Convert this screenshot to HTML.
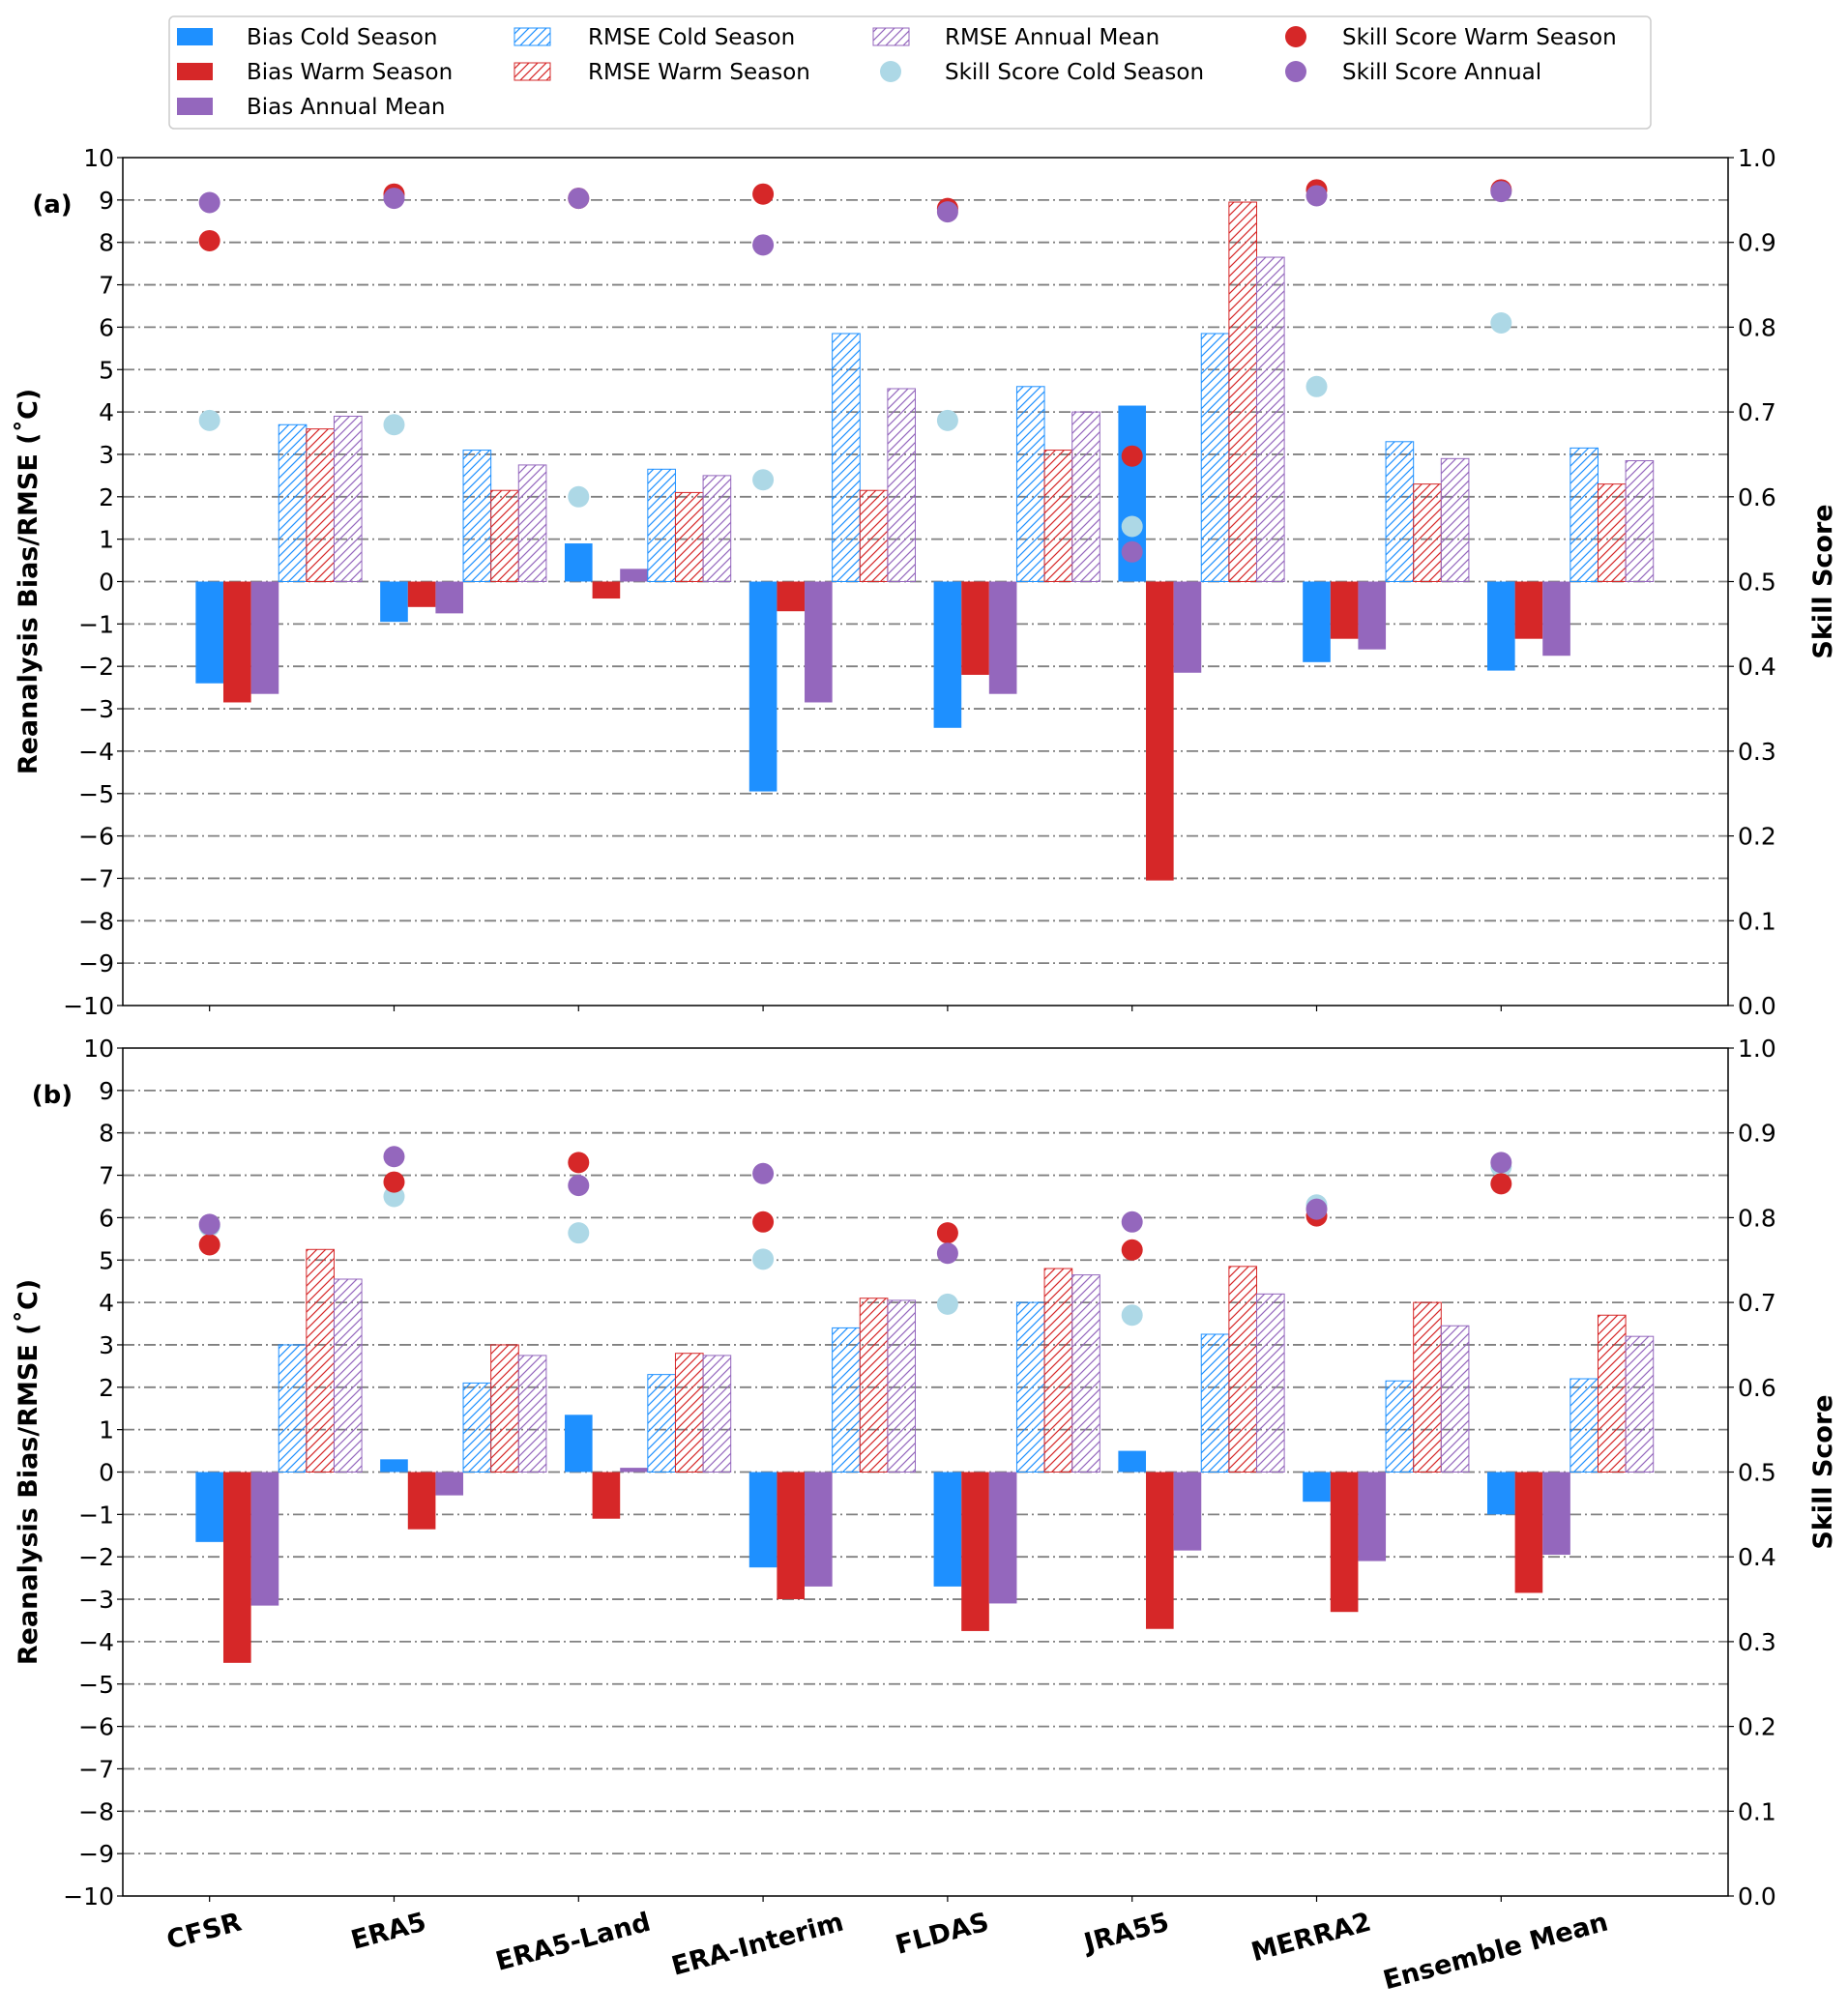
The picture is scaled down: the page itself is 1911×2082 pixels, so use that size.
<!DOCTYPE html>
<html><head><meta charset="utf-8"><style>
body{margin:0;background:#fff}
svg{display:block;font-family:"DejaVu Sans","Liberation Sans",sans-serif}
</style></head><body>
<svg id="chart" width="1911" height="2082" viewBox="0 0 1911 2082" xmlns="http://www.w3.org/2000/svg">
<defs>
<pattern id="hC" patternUnits="userSpaceOnUse" width="9" height="9"><path d="M-2,2 L2,-2 M0,9 L9,0 M7,11 L11,7" stroke="#1e90ff" stroke-width="1.2"/></pattern>
<pattern id="hW" patternUnits="userSpaceOnUse" width="9" height="9"><path d="M-2,2 L2,-2 M0,9 L9,0 M7,11 L11,7" stroke="#d62728" stroke-width="1.2"/></pattern>
<pattern id="hA" patternUnits="userSpaceOnUse" width="9" height="9"><path d="M-2,2 L2,-2 M0,9 L9,0 M7,11 L11,7" stroke="#9467bd" stroke-width="1.2"/></pattern>
</defs>
<g id="legend"></g>
</svg>
<script>
const categories=["CFSR","ERA5","ERA5-Land","ERA-Interim","FLDAS","JRA55","MERRA2","Ensemble Mean"];
const biasColdA=[-2.4,-0.95,0.9,-4.95,-3.45,4.15,-1.9,-2.1];
const biasWarmA=[-2.85,-0.6,-0.4,-0.7,-2.2,-7.05,-1.35,-1.35];
const biasAnnA=[-2.65,-0.75,0.3,-2.85,-2.65,-2.15,-1.6,-1.75];
const rmseColdA=[3.7,3.1,2.65,5.85,4.6,5.85,3.3,3.15];
const rmseWarmA=[3.6,2.15,2.1,2.15,3.1,8.95,2.3,2.3];
const rmseAnnA=[3.9,2.75,2.5,4.55,4.0,7.65,2.9,2.85];
const skillColdA=[0.69,0.685,0.60,0.62,0.69,0.565,0.73,0.805];
const skillWarmA=[0.902,0.957,0.952,0.957,0.94,0.648,0.962,0.962];
const skillAnnA=[0.947,0.952,0.952,0.897,0.936,0.535,0.955,0.96];
const biasColdB=[-1.65,0.3,1.35,-2.25,-2.7,0.5,-0.7,-1.0];
const biasWarmB=[-4.5,-1.35,-1.1,-3.0,-3.75,-3.7,-3.3,-2.85];
const biasAnnB=[-3.15,-0.55,0.1,-2.7,-3.1,-1.85,-2.1,-1.95];
const rmseColdB=[3.0,2.1,2.3,3.4,4.0,3.25,2.15,2.2];
const rmseWarmB=[5.25,3.0,2.8,4.1,4.8,4.85,4.0,3.7];
const rmseAnnB=[4.55,2.75,2.75,4.05,4.65,4.2,3.45,3.2];
const skillColdB=[0.79,0.825,0.782,0.751,0.698,0.685,0.815,0.86];
const skillWarmB=[0.768,0.842,0.865,0.795,0.782,0.762,0.802,0.84];
const skillAnnB=[0.792,0.872,0.838,0.852,0.758,0.795,0.81,0.865];
const leftTicks=[-10,-9,-8,-7,-6,-5,-4,-3,-2,-1,0,1,2,3,4,5,6,7,8,9,10];
const rightTicks=["0.0","0.1","0.2","0.3","0.4","0.5","0.6","0.7","0.8","0.9","1.0"];

const NS="http://www.w3.org/2000/svg";
const svg=document.getElementById('chart');
function mk(tag,attrs,parent,text){const e=document.createElementNS(NS,tag);for(const k in attrs)e.setAttribute(k,attrs[k]);if(text!==undefined)e.textContent=text;(parent||svg).appendChild(e);return e;}
const L=127,R=1787,XMIN=-0.47,XMAX=8.23;
function xs(v){return L+(v-XMIN)/(XMAX-XMIN)*(R-L);}
const BW=0.15;
const BLUE="#1e90ff",RED="#d62728",PUR="#9467bd",LB="#add8e6";

function panel(top,bot,label,d,showX){
  const g=mk('g',{});
  
  
  const ys=v=>top+(10-v)/20*(bot-top);
  const ss=s=>top+(1-s)*(bot-top);
  leftTicks.forEach(t=>{
    if(t!==10&&t!==-10){const gl=mk('line',{x1:L,x2:R,y1:ys(t),y2:ys(t),stroke:'#808080','stroke-width':1.8,'stroke-dasharray':'12,4,2,4'},g);
    }
    mk('line',{x1:L-6,x2:L,y1:ys(t),y2:ys(t),stroke:'#000','stroke-width':1.2},g);
    const tl=mk('text',{x:L-9,y:ys(t)+9,'text-anchor':'end','font-size':25},g,(t<0?'\u2212':'')+Math.abs(t));
    
  });
  rightTicks.forEach(t=>{
    const y=ss(parseFloat(t));
    mk('line',{x1:R,x2:R+6,y1:y,y2:y,stroke:'#000','stroke-width':1.2},g);
    const tl=mk('text',{x:R+10,y:y+9,'font-size':25},g,t);
    
  });
  const series=[[d.bc,BLUE,null],[d.bw,RED,null],[d.ba,PUR,null],[d.rc,BLUE,'url(#hC)'],[d.rw,RED,'url(#hW)'],[d.ra,PUR,'url(#hA)']];
  const names=['bias-cold','bias-warm','bias-annual','rmse-cold','rmse-warm','rmse-annual'];
  categories.forEach((c,i)=>{
    series.forEach((s,j)=>{
      const v=s[0][i];const cx=i+j*BW;
      const x0=xs(cx-BW/2),x1=xs(cx+BW/2);
      const y0=ys(Math.max(v,0)),y1=ys(Math.min(v,0));
      const r=mk('rect',{x:x0,y:y0,width:x1-x0,height:y1-y0,fill:s[2]?s[2]:s[1],stroke:s[2]?s[1]:'none','stroke-width':1},g);
      
      
    });
    mk('line',{x1:xs(i),x2:xs(i),y1:bot,y2:bot+6,stroke:'#000','stroke-width':1.2},g);
  });
  [[d.sc,LB,'skill-cold-dot'],[d.sw,RED,'skill-warm-dot'],[d.sa,PUR,'skill-annual-dot']].forEach(s=>{
    categories.forEach((c,i)=>{
      const p=mk('circle',{cx:xs(i),cy:ss(s[0][i]),r:11,fill:s[1]},g);
      
      
    });
  });
  mk('rect',{x:L,y:top,width:R-L,height:bot-top,fill:'none',stroke:'#000','stroke-width':1.5},g);
  const pl=mk('text',{x:54,y:top+57,'text-anchor':'middle','font-size':26,'font-weight':'bold'},g,'('+label+')');
  
  const cy=(top+bot)/2;
  const yl=mk('text',{x:0,y:0,'text-anchor':'middle','font-size':27,'font-weight':'bold',transform:`translate(38,${cy}) rotate(-90)`},g,'Reanalysis Bias/RMSE (\u02daC)');
  
  const yr=mk('text',{x:0,y:0,'text-anchor':'middle','font-size':27,'font-weight':'bold',transform:`translate(1894,${cy}) rotate(-90)`},g,'Skill Score');
  
  if(showX){
    categories.forEach((c,i)=>{
      const t=mk('text',{x:0,y:0,'text-anchor':'middle','font-size':27,'font-weight':'bold'},g,c);
      
      
      const w=t.getComputedTextLength();
      const hh=(w*Math.sin(15*Math.PI/180)+27*Math.cos(15*Math.PI/180))/2;
      t.setAttribute('transform',`translate(${xs(i)-6},${bot+12+hh}) rotate(-15) translate(0,10)`);
    });
  }
}
panel(163,1040,'a',{bc:biasColdA,bw:biasWarmA,ba:biasAnnA,rc:rmseColdA,rw:rmseWarmA,ra:rmseAnnA,sc:skillColdA,sw:skillWarmA,sa:skillAnnA},false);
panel(1084,1961,'b',{bc:biasColdB,bw:biasWarmB,ba:biasAnnB,rc:rmseColdB,rw:rmseWarmB,ra:rmseAnnB,sc:skillColdB,sw:skillWarmB,sa:skillAnnB},true);

const lg=document.getElementById('legend');
mk('rect',{x:175,y:17,width:1532,height:116,rx:5,fill:'#fff',stroke:'#ccc','stroke-width':1.5},lg);
const entries=[
 [183,38,'rect',BLUE,null,'Bias Cold Season',255],[183,74,'rect',RED,null,'Bias Warm Season',255],[183,110,'rect',PUR,null,'Bias Annual Mean',255],
 [532,38,'hatch',BLUE,'url(#hC)','RMSE Cold Season',608],[532,74,'hatch',RED,'url(#hW)','RMSE Warm Season',608],
 [903,38,'hatch',PUR,'url(#hA)','RMSE Annual Mean',977],[903,74,'dot',LB,null,'Skill Score Cold Season',977],
 [1322,38,'dot',RED,null,'Skill Score Warm Season',1388],[1322,74,'dot',PUR,null,'Skill Score Annual',1388]];
entries.forEach(e=>{
  const eg=mk('g',{},lg);
  
  
  if(e[2]==='rect')mk('rect',{x:e[0],y:e[1]-9,width:37,height:18,fill:e[3]},eg);
  else if(e[2]==='hatch')mk('rect',{x:e[0],y:e[1]-9,width:37,height:18,fill:e[4],stroke:e[3],'stroke-width':1},eg);
  else mk('circle',{cx:e[0]+18,cy:e[1],r:11,fill:e[3]},eg);
  mk('text',{x:e[6],y:e[1]+8,'font-size':23},eg,e[5]);
});
</script>
</body></html>
